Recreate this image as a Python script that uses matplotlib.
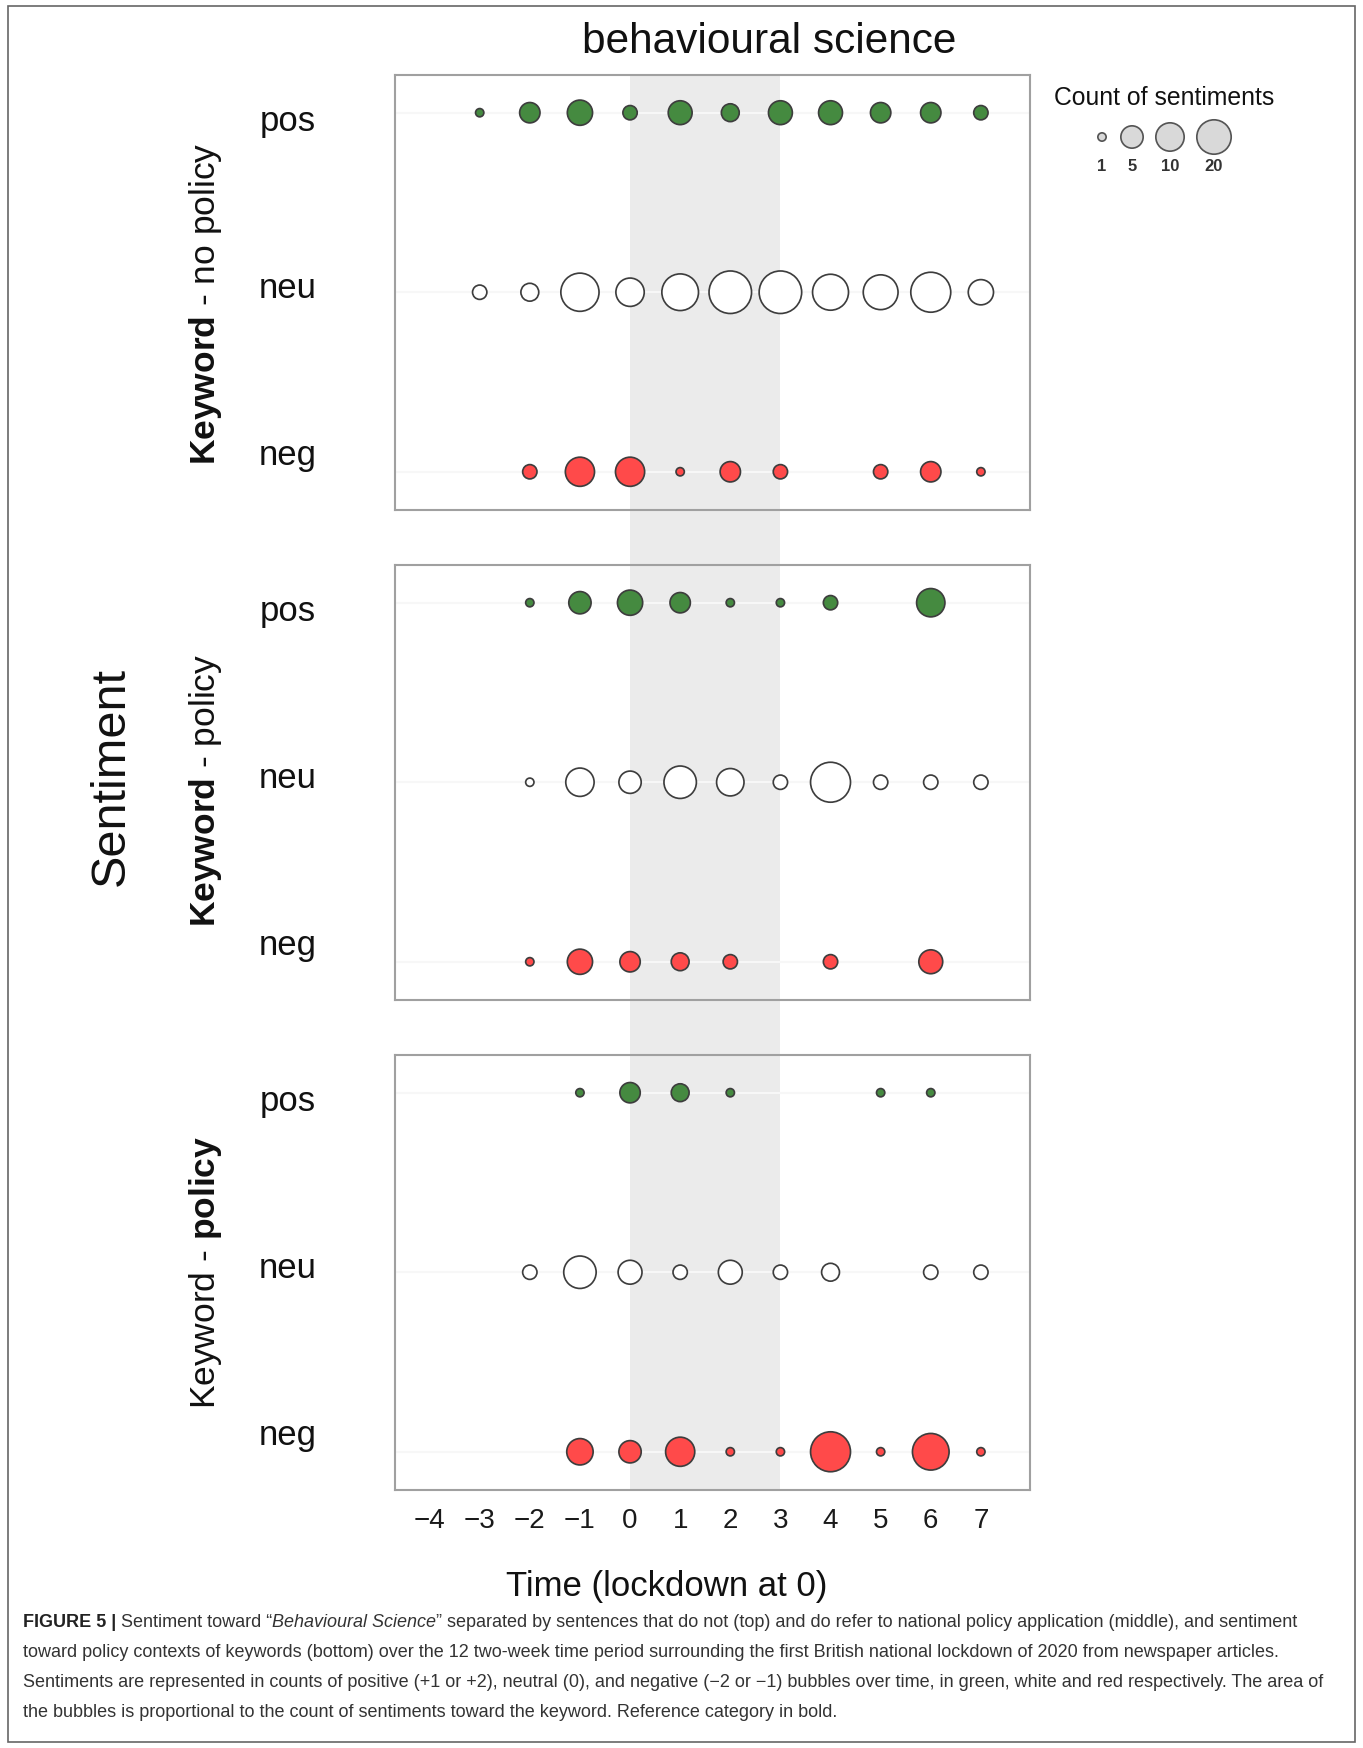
import numpy as np
import matplotlib
matplotlib.use("Agg")
import matplotlib.pyplot as plt
from matplotlib.patches import Rectangle
from matplotlib import font_manager

plt.rcParams['font.family'] = ['Liberation Sans', 'DejaVu Sans']
plt.rcParams['mathtext.fontset'] = 'custom'
plt.rcParams['mathtext.rm'] = 'Liberation Sans'
plt.rcParams['mathtext.bf'] = 'Liberation Sans:bold'
plt.rcParams['mathtext.it'] = 'Liberation Sans:italic'

# ---------------- data ----------------
time_periods = [-4, -3, -2, -1, 0, 1, 2, 3, 4, 5, 6, 7]
tick_labels = ['\u22124', '\u22123', '\u22122', '\u22121', '0', '1', '2', '3', '4', '5', '6', '7']
sentiments = ['pos', 'neu', 'neg']

# Keyword - no policy (top)
nopol_pos = [0, 1, 4, 7, 2, 6, 3, 6, 6, 4, 4, 2]
nopol_neu = [0, 2, 3, 31, 10, 26, 51, 51, 24, 21, 38, 7]
nopol_neg = [0, 0, 2, 11, 11, 1, 4, 2, 0, 2, 4, 1]

# Keyword - policy (middle)
pol_pos = [0, 0, 1, 5, 7, 4, 1, 1, 2, 0, 10, 0]
pol_neu = [0, 0, 1, 10, 5, 16, 9, 2, 38, 2, 2, 2]
pol_neg = [0, 0, 1, 7, 4, 3, 2, 0, 2, 0, 6, 0]

# Keyword - policy context (bottom)
ctx_pos = [0, 0, 0, 1, 4, 3, 1, 0, 0, 1, 1, 0]
ctx_neu = [0, 0, 2, 16, 6, 2, 6, 2, 3, 0, 2, 2]
ctx_neg = [0, 0, 0, 8, 5, 11, 1, 1, 38, 1, 26, 1]

panel_labels = [r'$\mathbf{Keyword}$ - no policy',
                r'$\mathbf{Keyword}$ - policy',
                r'Keyword - $\mathbf{policy}$']
legend_counts = [1, 5, 10, 20]
lockdown_band = (0, 3)

title_text = 'behavioural science'
xlabel_text = 'Time (lockdown at 0)'
ylabel_text = 'Sentiment'
legend_title = 'Count of sentiments'

# ---------------- style ----------------
W, H = 1363, 1748
DPI = 100
fill_colors = {'pos': '#458a40', 'neu': '#ffffff', 'neg': '#ff4a4a'}
EDGE = '#3d3d3d'
EDGE_PX = 1.7


def bubble_size(c):
    c = np.asarray(c, dtype=float)
    d = 10 + 8.7 * np.log(np.maximum(c, 1))
    return ((d - EDGE_PX) * 72 / DPI) ** 2


fig = plt.figure(figsize=(W / DPI, H / DPI), dpi=DPI)
fig.patch.set_facecolor('white')


def fbox(left, top, right, bottom):
    return [left / W, 1 - bottom / H, (right - left) / W, (bottom - top) / H]


PL, PR = 395, 1030
panel_tops = [75, 565, 1055]
PH = 435
XLIM = (-4.69, 7.98)
YLIM = (0.787, 3.21)

# background axes with lockdown band spanning all panels
bg = fig.add_axes(fbox(PL, panel_tops[0], PR, panel_tops[2] + PH), zorder=0)
bg.set_xlim(*XLIM)
bg.axvspan(lockdown_band[0], lockdown_band[1], color='#ebebeb', lw=0)
bg.axis('off')

panel_data = [
    [nopol_pos, nopol_neu, nopol_neg],
    [pol_pos, pol_neu, pol_neg],
    [ctx_pos, ctx_neu, ctx_neg],
]

axes = []
for i, top in enumerate(panel_tops):
    ax = fig.add_axes(fbox(PL, top, PR, top + PH), zorder=2)
    ax.patch.set_alpha(0)
    ax.set_xlim(*XLIM)
    ax.set_ylim(*YLIM)
    for j, (sent, vals) in enumerate(zip(sentiments, panel_data[i])):
        yv = 3 - j
        ax.axhline(yv, color='#f7f7f7', lw=1.5, zorder=1)
        t = np.array(time_periods)
        v = np.array(vals)
        m = v > 0
        ax.scatter(t[m], np.full(m.sum(), yv), s=bubble_size(v[m]),
                   c=fill_colors[sent], edgecolors=EDGE,
                   linewidths=EDGE_PX * 72 / DPI, zorder=3)
    for sp in ax.spines.values():
        sp.set_color('#a0a0a0')
        sp.set_linewidth(1.5)
    ax.set_yticks([])
    if i == 2:
        ax.set_xticks(time_periods)
        ax.set_xticklabels(tick_labels, fontsize=20)
        ax.tick_params(axis='x', length=0, pad=12.6, colors='#1a1a1a')
    else:
        ax.set_xticks([])
    axes.append(ax)

# overlay axes in pixel coordinates for annotations
ov = fig.add_axes([0, 0, 1, 1], zorder=5)
ov.set_xlim(0, W)
ov.set_ylim(H, 0)
ov.axis('off')
ov.patch.set_alpha(0)

# figure frame
ov.add_patch(Rectangle((8, 6), 1347, 1736, fill=False, ec='#666666', lw=1.2))

# title
ov.text(769, 53, title_text, fontsize=30.5, ha='center', va='baseline', color='#111111')

# row labels and panel labels
for i, top in enumerate(panel_tops):
    for lab, off in zip(sentiments, [56, 223, 390]):
        ov.text(288, top + off, lab, fontsize=25, ha='center', va='baseline', color='#111111')
panel_label_y = [304, 790, 1272]
for lab, y in zip(panel_labels, panel_label_y):
    ov.text(206, y, lab, fontsize=25.5, rotation=90, ha='center', va='center', color='#111111')

ov.text(111, 777, ylabel_text, fontsize=35, rotation=90, ha='center', va='center', color='#111111')
ov.text(667, 1596, xlabel_text, fontsize=25, ha='center', va='baseline', color='#111111')

# size legend
ov.text(1164, 105, legend_title, fontsize=17.8, ha='center', va='baseline', color='#111111')
leg_x = [1102, 1132, 1170, 1214]
ov.scatter(leg_x, [137] * 4, s=bubble_size(legend_counts), c='#d9d9d9',
           edgecolors='#555555', linewidths=EDGE_PX * 72 / DPI, zorder=3)
for x, c in zip(leg_x, legend_counts):
    ov.text(x, 171, str(c), fontsize=12, ha='center', va='baseline',
            color='#333333', fontweight='bold')

# caption
names = {f.name for f in font_manager.fontManager.ttflist}
cap_family = 'Liberation Sans Narrow' if 'Liberation Sans Narrow' in names else 'Liberation Sans'
renderer = fig.canvas.get_renderer()
CAP = '#333333'
bold = dict(fontweight='bold', color='#222222', family=cap_family)
norm = dict(color=CAP, family=cap_family)
ital = dict(fontstyle='italic', color=CAP, family=cap_family)
cap_lines = [
    [("FIGURE 5 |", bold), (" Sentiment toward \u201c", norm), ("Behavioural Science", ital),
     ("\u201d separated by sentences that do not (top) and do refer to national policy application (middle), and sentiment", norm)],
    [("toward policy contexts of keywords (bottom) over the 12 two-week time period surrounding the first British national lockdown of 2020 from newspaper articles.", norm)],
    [("Sentiments are represented in counts of positive (+1 or +2), neutral (0), and negative (\u22122 or \u22121) bubbles over time, in green, white and red respectively. The area of", norm)],
    [("the bubbles is proportional to the count of sentiments toward the keyword. Reference category in bold.", norm)],
]


def draw_line(x0, y, segs, size, keep=True):
    x = x0
    objs = []
    for txt, kw in segs:
        t = ov.text(x, y, txt, fontsize=size, ha='left', va='baseline', **kw)
        bb = t.get_window_extent(renderer)
        x += bb.width
        objs.append(t)
    if not keep:
        for t in objs:
            t.remove()
    return x - x0


w10 = draw_line(23, 1627, cap_lines[0], 10, keep=False)
cap_size = min(10 * 1279 / w10, 15)
cap_baselines = [1627, 1657, 1687, 1717]
for segs, y in zip(cap_lines, cap_baselines):
    draw_line(23, y, segs, cap_size)

fig.savefig('out.png', dpi=DPI, facecolor='white')
